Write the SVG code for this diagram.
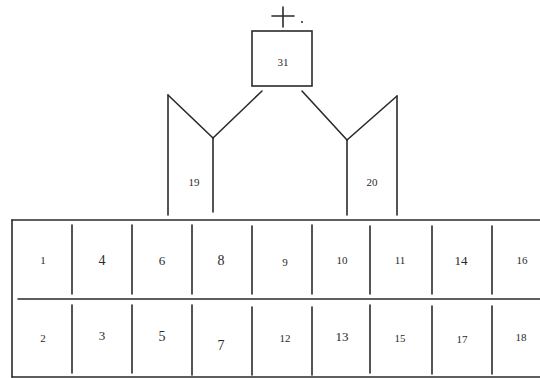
<svg xmlns="http://www.w3.org/2000/svg" width="540" height="378" viewBox="0 0 540 378">
<style>
.ln{stroke:#2a2a2a;stroke-width:1.6;fill:none;stroke-linecap:round}
.t{font-family:"Liberation Serif","DejaVu Serif",serif;fill:#2a2a2a;text-anchor:middle}
.s{font-size:14px}
.m{font-size:13px}
.d{font-size:11px}
</style>
<rect width="540" height="378" fill="#fff"/>
<g id="connectors">
<line class="ln" x1="262" y1="91" x2="213" y2="138"/>
<line class="ln" x1="213" y1="138" x2="168" y2="95"/>
<line class="ln" x1="168" y1="95" x2="168" y2="215"/>
<line class="ln" x1="213" y1="138" x2="213" y2="212"/>
<line class="ln" x1="302" y1="91" x2="347" y2="140"/>
<line class="ln" x1="347" y1="140" x2="397" y2="96"/>
<line class="ln" x1="347" y1="140" x2="347" y2="215"/>
<line class="ln" x1="397" y1="96" x2="397" y2="215"/>
</g>
<g id="n31">
<rect class="ln" x="252" y="31" width="60" height="55"/>
<text class="t d" x="283" y="66">31</text>
</g>
<g id="plus">
<line class="ln" x1="272" y1="16" x2="294" y2="16"/>
<line class="ln" x1="283" y1="7" x2="283" y2="27"/>
<circle cx="302" cy="22" r="1" fill="#2a2a2a"/>
</g>
<g id="n19"><text class="t d" x="194" y="186">19</text></g>
<g id="n20"><text class="t d" x="372" y="186">20</text></g>
<g id="table">
<line class="ln" x1="12" y1="220" x2="540" y2="220"/>
<line class="ln" x1="12" y1="220" x2="12" y2="377"/>
<line class="ln" x1="12" y1="377" x2="540" y2="377"/>
<line class="ln" x1="18" y1="299" x2="540" y2="299"/>
<g>
<line class="ln" x1="72" y1="225" x2="72" y2="294"/>
<line class="ln" x1="132" y1="225" x2="132" y2="294"/>
<line class="ln" x1="192" y1="225" x2="192" y2="294"/>
<line class="ln" x1="252" y1="226" x2="252" y2="294"/>
<line class="ln" x1="312" y1="225" x2="312" y2="294"/>
<line class="ln" x1="370" y1="226" x2="370" y2="294"/>
<line class="ln" x1="432" y1="226" x2="432" y2="294"/>
<line class="ln" x1="492" y1="226" x2="492" y2="294"/>
<line class="ln" x1="72" y1="305" x2="72" y2="373"/>
<line class="ln" x1="132" y1="305" x2="132" y2="373"/>
<line class="ln" x1="192" y1="305" x2="192" y2="375"/>
<line class="ln" x1="252" y1="307" x2="252" y2="375"/>
<line class="ln" x1="312" y1="307" x2="312" y2="375"/>
<line class="ln" x1="370" y1="305" x2="370" y2="373"/>
<line class="ln" x1="432" y1="306" x2="432" y2="374"/>
<line class="ln" x1="492" y1="306" x2="492" y2="374"/>
</g>
</g>
<g id="c1"><text class="t d" x="43" y="264">1</text></g>
<g id="c4"><text class="t s" x="102" y="265">4</text></g>
<g id="c6"><text class="t m" x="162" y="265">6</text></g>
<g id="c8"><text class="t s" x="221" y="265">8</text></g>
<g id="c9"><text class="t d" x="285" y="266">9</text></g>
<g id="c10"><text class="t d" x="342" y="264">10</text></g>
<g id="c11"><text class="t d" x="400" y="264">11</text></g>
<g id="c14"><text class="t m" x="461" y="265">14</text></g>
<g id="c16"><text class="t d" x="522" y="264">16</text></g>
<g id="c2"><text class="t d" x="43" y="342">2</text></g>
<g id="c3"><text class="t m" x="102" y="340">3</text></g>
<g id="c5"><text class="t s" x="162" y="341">5</text></g>
<g id="c7"><text class="t s" x="221" y="350">7</text></g>
<g id="c12"><text class="t d" x="285" y="342">12</text></g>
<g id="c13"><text class="t m" x="342" y="341">13</text></g>
<g id="c15"><text class="t d" x="400" y="342">15</text></g>
<g id="c17"><text class="t d" x="462" y="343">17</text></g>
<g id="c18"><text class="t d" x="521" y="341">18</text></g>
</svg>
